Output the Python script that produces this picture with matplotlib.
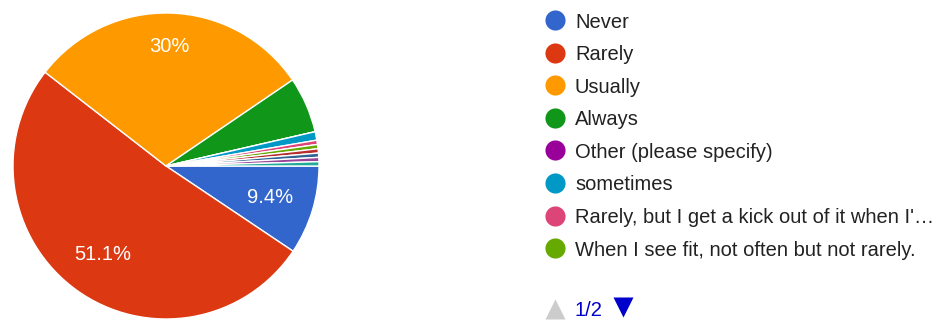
import matplotlib.pyplot as plt

plt.rcParams['font.family'] = ['Liberation Sans', 'DejaVu Sans']

# answers, in pie order (clockwise from 3 o'clock)
labels = ['Never', 'Rarely', 'Usually', 'Always', 'Other (please specify)', 'sometimes',
          "Rarely, but I get a kick out of it when I'\u2026",
          'When I see fit, not often but not rarely.',
          'page 2 answer a', 'page 2 answer b', 'page 2 answer c', 'page 2 answer d']
shares = [9.4, 51.1, 30.0, 5.9, 0.0, 0.9, 0.45, 0.45, 0.45, 0.45, 0.45, 0.45]
colors = ['#3366cc', '#dc3912', '#ff9900', '#109618', '#990099', '#0099c6',
          '#dd4477', '#66aa00', '#b82e2e', '#316395', '#994499', '#22aa99']
legend_count = 8  # page 1 of the legend

fig = plt.figure(figsize=(9.45, 3.2), dpi=100)
ax = fig.add_axes([13 / 945, 1 - 319 / 320, 306 / 945, 306 / 320])

def pct_label(p):
    return f'{p:.1f}%'.replace('.0%', '%') if p >= 8 else ''

wedges, texts, autotexts = ax.pie(
    shares, colors=colors, startangle=0, counterclock=False,
    autopct=pct_label, pctdistance=0.71,
    wedgeprops=dict(edgecolor='white', linewidth=1),
    textprops=dict(color='white', fontsize=14.5))
# the 30% label sits a bit further out
x, y = autotexts[2].get_position()
autotexts[2].set_position((x * 0.78 / 0.71, y * 0.78 / 0.71))
ax.set_xlim(-1, 1)
ax.set_ylim(-1, 1)
ax.set_aspect('equal')

# legend, page 1 of 2
lg = fig.add_axes([0, 0, 1, 1])
lg.set_xlim(0, 945)
lg.set_ylim(320, 0)
lg.axis('off')
for i in range(legend_count):
    yy = 20 + i * 32.6
    lg.plot(555, yy, 'o', ms=14.5, color=colors[i], mec='none')
    lg.text(575, yy, labels[i], fontsize=14.5, color='#222222', va='center_baseline')

lg.plot(555, 309, '^', ms=14, color='#cccccc', mec='none')
lg.text(575, 309, '1/2', fontsize=14.5, color='#0000cc', va='center_baseline')
lg.plot(623, 307, 'v', ms=14, color='#0000cc', mec='none')

fig.savefig('out.png', dpi=100)
